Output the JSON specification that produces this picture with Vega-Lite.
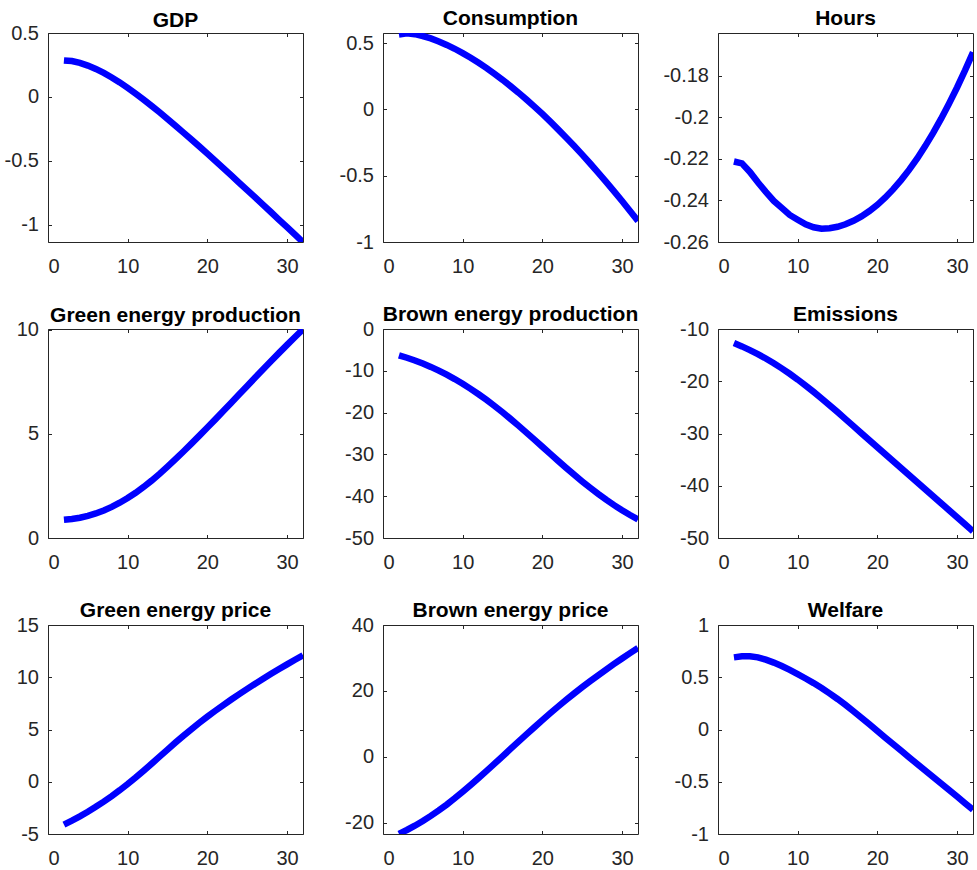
{
  "$schema": "https://vega.github.io/schema/vega-lite/v6.json",
  "padding": {"left": 3, "top": 7, "right": 0, "bottom": 0},
  "background": "white",
  "bounds": "flush",
  "columns": 3,
  "spacing": {"row": 87, "column": 80},
  "data": {"values": [
    {"t": 2, "gdp": 0.285, "cons": 0.566, "hours": -0.2213, "gprod": 0.880, "bprod": -6.30, "emis": -12.70, "gprice": -4.10, "bprice": -23.40, "welf": 0.690},
    {"t": 3, "gdp": 0.280, "cons": 0.575, "hours": -0.2222, "gprod": 0.914, "bprod": -6.88, "emis": -13.33, "gprice": -3.72, "bprice": -22.23, "welf": 0.700},
    {"t": 4, "gdp": 0.266, "cons": 0.568, "hours": -0.2263, "gprod": 0.975, "bprod": -7.53, "emis": -14.03, "gprice": -3.31, "bprice": -20.93, "welf": 0.701},
    {"t": 5, "gdp": 0.245, "cons": 0.554, "hours": -0.2313, "gprod": 1.064, "bprod": -8.26, "emis": -14.80, "gprice": -2.87, "bprice": -19.50, "welf": 0.690},
    {"t": 6, "gdp": 0.219, "cons": 0.536, "hours": -0.2359, "gprod": 1.180, "bprod": -9.07, "emis": -15.64, "gprice": -2.40, "bprice": -17.95, "welf": 0.668},
    {"t": 7, "gdp": 0.187, "cons": 0.513, "hours": -0.2402, "gprod": 1.324, "bprod": -9.96, "emis": -16.55, "gprice": -1.90, "bprice": -16.28, "welf": 0.640},
    {"t": 8, "gdp": 0.152, "cons": 0.487, "hours": -0.2436, "gprod": 1.495, "bprod": -10.93, "emis": -17.53, "gprice": -1.37, "bprice": -14.51, "welf": 0.607},
    {"t": 9, "gdp": 0.113, "cons": 0.458, "hours": -0.2470, "gprod": 1.694, "bprod": -11.98, "emis": -18.57, "gprice": -0.81, "bprice": -12.62, "welf": 0.570},
    {"t": 10, "gdp": 0.070, "cons": 0.425, "hours": -0.2493, "gprod": 1.920, "bprod": -13.11, "emis": -19.67, "gprice": -0.22, "bprice": -10.63, "welf": 0.530},
    {"t": 11, "gdp": 0.025, "cons": 0.390, "hours": -0.2515, "gprod": 2.172, "bprod": -14.32, "emis": -20.83, "gprice": 0.40, "bprice": -8.56, "welf": 0.488},
    {"t": 12, "gdp": -0.022, "cons": 0.352, "hours": -0.2529, "gprod": 2.451, "bprod": -15.61, "emis": -22.04, "gprice": 1.05, "bprice": -6.45, "welf": 0.444},
    {"t": 13, "gdp": -0.071, "cons": 0.312, "hours": -0.2536, "gprod": 2.755, "bprod": -16.98, "emis": -23.29, "gprice": 1.72, "bprice": -4.30, "welf": 0.397},
    {"t": 14, "gdp": -0.121, "cons": 0.269, "hours": -0.2534, "gprod": 3.081, "bprod": -18.42, "emis": -24.58, "gprice": 2.40, "bprice": -2.11, "welf": 0.346},
    {"t": 15, "gdp": -0.173, "cons": 0.224, "hours": -0.2527, "gprod": 3.426, "bprod": -19.93, "emis": -25.90, "gprice": 3.08, "bprice": 0.12, "welf": 0.292},
    {"t": 16, "gdp": -0.226, "cons": 0.176, "hours": -0.2515, "gprod": 3.786, "bprod": -21.50, "emis": -27.24, "gprice": 3.75, "bprice": 2.36, "welf": 0.235},
    {"t": 17, "gdp": -0.280, "cons": 0.127, "hours": -0.2498, "gprod": 4.157, "bprod": -23.12, "emis": -28.60, "gprice": 4.40, "bprice": 4.58, "welf": 0.175},
    {"t": 18, "gdp": -0.334, "cons": 0.075, "hours": -0.2477, "gprod": 4.536, "bprod": -24.78, "emis": -29.94, "gprice": 5.03, "bprice": 6.78, "welf": 0.113},
    {"t": 19, "gdp": -0.389, "cons": 0.021, "hours": -0.2451, "gprod": 4.920, "bprod": -26.47, "emis": -31.28, "gprice": 5.64, "bprice": 8.96, "welf": 0.050},
    {"t": 20, "gdp": -0.445, "cons": -0.034, "hours": -0.2421, "gprod": 5.306, "bprod": -28.18, "emis": -32.62, "gprice": 6.23, "bprice": 11.12, "welf": -0.014},
    {"t": 21, "gdp": -0.502, "cons": -0.092, "hours": -0.2386, "gprod": 5.698, "bprod": -29.89, "emis": -33.96, "gprice": 6.795, "bprice": 13.24, "welf": -0.078},
    {"t": 22, "gdp": -0.558, "cons": -0.152, "hours": -0.2346, "gprod": 6.096, "bprod": -31.59, "emis": -35.30, "gprice": 7.34, "bprice": 15.30, "welf": -0.141},
    {"t": 23, "gdp": -0.615, "cons": -0.213, "hours": -0.2301, "gprod": 6.498, "bprod": -33.26, "emis": -36.64, "gprice": 7.87, "bprice": 17.30, "welf": -0.204},
    {"t": 24, "gdp": -0.673, "cons": -0.276, "hours": -0.2252, "gprod": 6.902, "bprod": -34.89, "emis": -37.98, "gprice": 8.385, "bprice": 19.24, "welf": -0.267},
    {"t": 25, "gdp": -0.730, "cons": -0.341, "hours": -0.2198, "gprod": 7.306, "bprod": -36.47, "emis": -39.32, "gprice": 8.885, "bprice": 21.12, "welf": -0.330},
    {"t": 26, "gdp": -0.788, "cons": -0.408, "hours": -0.2139, "gprod": 7.708, "bprod": -37.99, "emis": -40.66, "gprice": 9.375, "bprice": 22.95, "welf": -0.392},
    {"t": 27, "gdp": -0.846, "cons": -0.476, "hours": -0.2075, "gprod": 8.107, "bprod": -39.45, "emis": -42.00, "gprice": 9.855, "bprice": 24.74, "welf": -0.455},
    {"t": 28, "gdp": -0.904, "cons": -0.547, "hours": -0.2007, "gprod": 8.502, "bprod": -40.84, "emis": -43.34, "gprice": 10.325, "bprice": 26.48, "welf": -0.517},
    {"t": 29, "gdp": -0.963, "cons": -0.618, "hours": -0.1934, "gprod": 8.892, "bprod": -42.14, "emis": -44.68, "gprice": 10.785, "bprice": 28.18, "welf": -0.580},
    {"t": 30, "gdp": -1.021, "cons": -0.691, "hours": -0.1857, "gprod": 9.276, "bprod": -43.36, "emis": -46.02, "gprice": 11.235, "bprice": 29.84, "welf": -0.642},
    {"t": 31, "gdp": -1.080, "cons": -0.766, "hours": -0.1775, "gprod": 9.654, "bprod": -44.50, "emis": -47.36, "gprice": 11.675, "bprice": 31.45, "welf": -0.705},
    {"t": 32, "gdp": -1.138, "cons": -0.842, "hours": -0.1688, "gprod": 10.026, "bprod": -45.56, "emis": -48.70, "gprice": 12.105, "bprice": 33.02, "welf": -0.768}
  ]},
  "concat": [
    {"title": {"text": "GDP", "offset": -7.5}, "width": 255, "height": 209,
     "layer": [
      {"mark": {"type": "line", "color": "#0000ff", "strokeWidth": 6.5, "clip": true},
       "encoding": {"x": {"field": "t", "type": "quantitative", "scale": {"domain": [0, 32], "nice": false, "zero": false}, "axis": {"values": [0, 10, 20, 30], "title": null, "labelExpr": "'' + datum.value"}},
                    "y": {"field": "gdp", "type": "quantitative", "scale": {"domain": [-1.137, 0.5], "nice": false, "zero": false}, "axis": {"values": [-1, -0.5, 0, 0.5], "title": null, "labelExpr": "'' + datum.value"}}}},
      {"mark": {"type": "line", "opacity": 0, "clip": true},
       "encoding": {"x": {"field": "t", "type": "quantitative", "scale": {"domain": [0, 32], "nice": false, "zero": false}, "axis": {"orient": "top", "values": [0, 10, 20, 30], "title": null, "labels": false}},
                    "y": {"field": "gdp", "type": "quantitative", "scale": {"domain": [-1.137, 0.5], "nice": false, "zero": false}, "axis": {"orient": "right", "values": [-1, -0.5, 0, 0.5], "title": null, "labels": false}}}}
     ],
     "resolve": {"axis": {"x": "independent", "y": "independent"}}},
    {"title": {"text": "Consumption", "offset": 3.5}, "width": 255, "height": 209,
     "layer": [
      {"mark": {"type": "line", "color": "#0000ff", "strokeWidth": 6.5, "clip": true},
       "encoding": {"x": {"field": "t", "type": "quantitative", "scale": {"domain": [0, 32], "nice": false, "zero": false}, "axis": {"values": [0, 10, 20, 30], "title": null, "labelExpr": "'' + datum.value"}},
                    "y": {"field": "cons", "type": "quantitative", "scale": {"domain": [-1, 0.577], "nice": false, "zero": false}, "axis": {"values": [-1, -0.5, 0, 0.5], "title": null, "labelExpr": "'' + datum.value"}}}},
      {"mark": {"type": "line", "opacity": 0, "clip": true},
       "encoding": {"x": {"field": "t", "type": "quantitative", "scale": {"domain": [0, 32], "nice": false, "zero": false}, "axis": {"orient": "top", "values": [0, 10, 20, 30], "title": null, "labels": false}},
                    "y": {"field": "cons", "type": "quantitative", "scale": {"domain": [-1, 0.577], "nice": false, "zero": false}, "axis": {"orient": "right", "values": [-1, -0.5, 0, 0.5], "title": null, "labels": false}}}}
     ],
     "resolve": {"axis": {"x": "independent", "y": "independent"}}},
    {"title": {"text": "Hours", "offset": 3.5}, "width": 255, "height": 209,
     "layer": [
      {"mark": {"type": "line", "color": "#0000ff", "strokeWidth": 6.5, "clip": true},
       "encoding": {"x": {"field": "t", "type": "quantitative", "scale": {"domain": [0, 32], "nice": false, "zero": false}, "axis": {"values": [0, 10, 20, 30], "title": null, "labelExpr": "'' + datum.value"}},
                    "y": {"field": "hours", "type": "quantitative", "scale": {"domain": [-0.26, -0.1595], "nice": false, "zero": false}, "axis": {"values": [-0.26, -0.24, -0.22, -0.2, -0.18], "title": null, "labelExpr": "'' + datum.value"}}}},
      {"mark": {"type": "line", "opacity": 0, "clip": true},
       "encoding": {"x": {"field": "t", "type": "quantitative", "scale": {"domain": [0, 32], "nice": false, "zero": false}, "axis": {"orient": "top", "values": [0, 10, 20, 30], "title": null, "labels": false}},
                    "y": {"field": "hours", "type": "quantitative", "scale": {"domain": [-0.26, -0.1595], "nice": false, "zero": false}, "axis": {"orient": "right", "values": [-0.26, -0.24, -0.22, -0.2, -0.18], "title": null, "labels": false}}}}
     ],
     "resolve": {"axis": {"x": "independent", "y": "independent"}}},
    {"title": {"text": "Green energy production", "offset": -6}, "width": 255, "height": 209,
     "layer": [
      {"mark": {"type": "line", "color": "#0000ff", "strokeWidth": 6.5, "clip": true},
       "encoding": {"x": {"field": "t", "type": "quantitative", "scale": {"domain": [0, 32], "nice": false, "zero": false}, "axis": {"values": [0, 10, 20, 30], "title": null, "labelExpr": "'' + datum.value"}},
                    "y": {"field": "gprod", "type": "quantitative", "scale": {"domain": [0, 10.04], "nice": false, "zero": false}, "axis": {"values": [0, 5, 10], "title": null, "labelExpr": "'' + datum.value"}}}},
      {"mark": {"type": "line", "opacity": 0, "clip": true},
       "encoding": {"x": {"field": "t", "type": "quantitative", "scale": {"domain": [0, 32], "nice": false, "zero": false}, "axis": {"orient": "top", "values": [0, 10, 20, 30], "title": null, "labels": false}},
                    "y": {"field": "gprod", "type": "quantitative", "scale": {"domain": [0, 10.04], "nice": false, "zero": false}, "axis": {"orient": "right", "values": [0, 5, 10], "title": null, "labels": false}}}}
     ],
     "resolve": {"axis": {"x": "independent", "y": "independent"}}},
    {"title": {"text": "Brown energy production", "offset": -6}, "width": 255, "height": 209,
     "layer": [
      {"mark": {"type": "line", "color": "#0000ff", "strokeWidth": 6.5, "clip": true},
       "encoding": {"x": {"field": "t", "type": "quantitative", "scale": {"domain": [0, 32], "nice": false, "zero": false}, "axis": {"values": [0, 10, 20, 30], "title": null, "labelExpr": "'' + datum.value"}},
                    "y": {"field": "bprod", "type": "quantitative", "scale": {"domain": [-50, 0], "nice": false, "zero": false}, "axis": {"values": [-50, -40, -30, -20, -10, 0], "title": null, "labelExpr": "'' + datum.value"}}}},
      {"mark": {"type": "line", "opacity": 0, "clip": true},
       "encoding": {"x": {"field": "t", "type": "quantitative", "scale": {"domain": [0, 32], "nice": false, "zero": false}, "axis": {"orient": "top", "values": [0, 10, 20, 30], "title": null, "labels": false}},
                    "y": {"field": "bprod", "type": "quantitative", "scale": {"domain": [-50, 0], "nice": false, "zero": false}, "axis": {"orient": "right", "values": [-50, -40, -30, -20, -10, 0], "title": null, "labels": false}}}}
     ],
     "resolve": {"axis": {"x": "independent", "y": "independent"}}},
    {"title": {"text": "Emissions", "offset": -6}, "width": 255, "height": 209,
     "layer": [
      {"mark": {"type": "line", "color": "#0000ff", "strokeWidth": 6.5, "clip": true},
       "encoding": {"x": {"field": "t", "type": "quantitative", "scale": {"domain": [0, 32], "nice": false, "zero": false}, "axis": {"values": [0, 10, 20, 30], "title": null, "labelExpr": "'' + datum.value"}},
                    "y": {"field": "emis", "type": "quantitative", "scale": {"domain": [-50, -10], "nice": false, "zero": false}, "axis": {"values": [-50, -40, -30, -20, -10], "title": null, "labelExpr": "'' + datum.value"}}}},
      {"mark": {"type": "line", "opacity": 0, "clip": true},
       "encoding": {"x": {"field": "t", "type": "quantitative", "scale": {"domain": [0, 32], "nice": false, "zero": false}, "axis": {"orient": "top", "values": [0, 10, 20, 30], "title": null, "labels": false}},
                    "y": {"field": "emis", "type": "quantitative", "scale": {"domain": [-50, -10], "nice": false, "zero": false}, "axis": {"orient": "right", "values": [-50, -40, -30, -20, -10], "title": null, "labels": false}}}}
     ],
     "resolve": {"axis": {"x": "independent", "y": "independent"}}},
    {"title": {"text": "Green energy price", "offset": -6}, "width": 255, "height": 209,
     "layer": [
      {"mark": {"type": "line", "color": "#0000ff", "strokeWidth": 6.5, "clip": true},
       "encoding": {"x": {"field": "t", "type": "quantitative", "scale": {"domain": [0, 32], "nice": false, "zero": false}, "axis": {"values": [0, 10, 20, 30], "title": null, "labelExpr": "'' + datum.value"}},
                    "y": {"field": "gprice", "type": "quantitative", "scale": {"domain": [-5, 15], "nice": false, "zero": false}, "axis": {"values": [-5, 0, 5, 10, 15], "title": null, "labelExpr": "'' + datum.value"}}}},
      {"mark": {"type": "line", "opacity": 0, "clip": true},
       "encoding": {"x": {"field": "t", "type": "quantitative", "scale": {"domain": [0, 32], "nice": false, "zero": false}, "axis": {"orient": "top", "values": [0, 10, 20, 30], "title": null, "labels": false}},
                    "y": {"field": "gprice", "type": "quantitative", "scale": {"domain": [-5, 15], "nice": false, "zero": false}, "axis": {"orient": "right", "values": [-5, 0, 5, 10, 15], "title": null, "labels": false}}}}
     ],
     "resolve": {"axis": {"x": "independent", "y": "independent"}}},
    {"title": {"text": "Brown energy price", "offset": -6}, "width": 255, "height": 209,
     "layer": [
      {"mark": {"type": "line", "color": "#0000ff", "strokeWidth": 6.5, "clip": true},
       "encoding": {"x": {"field": "t", "type": "quantitative", "scale": {"domain": [0, 32], "nice": false, "zero": false}, "axis": {"values": [0, 10, 20, 30], "title": null, "labelExpr": "'' + datum.value"}},
                    "y": {"field": "bprice", "type": "quantitative", "scale": {"domain": [-23.45, 40], "nice": false, "zero": false}, "axis": {"values": [-20, 0, 20, 40], "title": null, "labelExpr": "'' + datum.value"}}}},
      {"mark": {"type": "line", "opacity": 0, "clip": true},
       "encoding": {"x": {"field": "t", "type": "quantitative", "scale": {"domain": [0, 32], "nice": false, "zero": false}, "axis": {"orient": "top", "values": [0, 10, 20, 30], "title": null, "labels": false}},
                    "y": {"field": "bprice", "type": "quantitative", "scale": {"domain": [-23.45, 40], "nice": false, "zero": false}, "axis": {"orient": "right", "values": [-20, 0, 20, 40], "title": null, "labels": false}}}}
     ],
     "resolve": {"axis": {"x": "independent", "y": "independent"}}},
    {"title": {"text": "Welfare", "offset": -6}, "width": 255, "height": 209,
     "layer": [
      {"mark": {"type": "line", "color": "#0000ff", "strokeWidth": 6.5, "clip": true},
       "encoding": {"x": {"field": "t", "type": "quantitative", "scale": {"domain": [0, 32], "nice": false, "zero": false}, "axis": {"values": [0, 10, 20, 30], "title": null, "labelExpr": "'' + datum.value"}},
                    "y": {"field": "welf", "type": "quantitative", "scale": {"domain": [-1, 1], "nice": false, "zero": false}, "axis": {"values": [-1, -0.5, 0, 0.5, 1], "title": null, "labelExpr": "'' + datum.value"}}}},
      {"mark": {"type": "line", "opacity": 0, "clip": true},
       "encoding": {"x": {"field": "t", "type": "quantitative", "scale": {"domain": [0, 32], "nice": false, "zero": false}, "axis": {"orient": "top", "values": [0, 10, 20, 30], "title": null, "labels": false}},
                    "y": {"field": "welf", "type": "quantitative", "scale": {"domain": [-1, 1], "nice": false, "zero": false}, "axis": {"orient": "right", "values": [-1, -0.5, 0, 0.5, 1], "title": null, "labels": false}}}}
     ],
     "resolve": {"axis": {"x": "independent", "y": "independent"}}}
  ],
  "config": {
    "font": "Liberation Sans",
    "view": {"stroke": "#262626", "strokeWidth": 1},
    "axis": {"domain": false, "grid": false, "tickSize": -3.5, "tickColor": "#262626", "tickWidth": 1, "labelFont": "Liberation Sans", "labelFontSize": 20, "labelColor": "#262626"},
    "axisX": {"labelPadding": 17.5},
    "axisY": {"labelPadding": 13},
    "title": {"font": "Liberation Sans", "fontSize": 21, "fontWeight": "bold", "color": "#000000", "offset": 2, "anchor": "middle", "frame": "group"}
  }
}
